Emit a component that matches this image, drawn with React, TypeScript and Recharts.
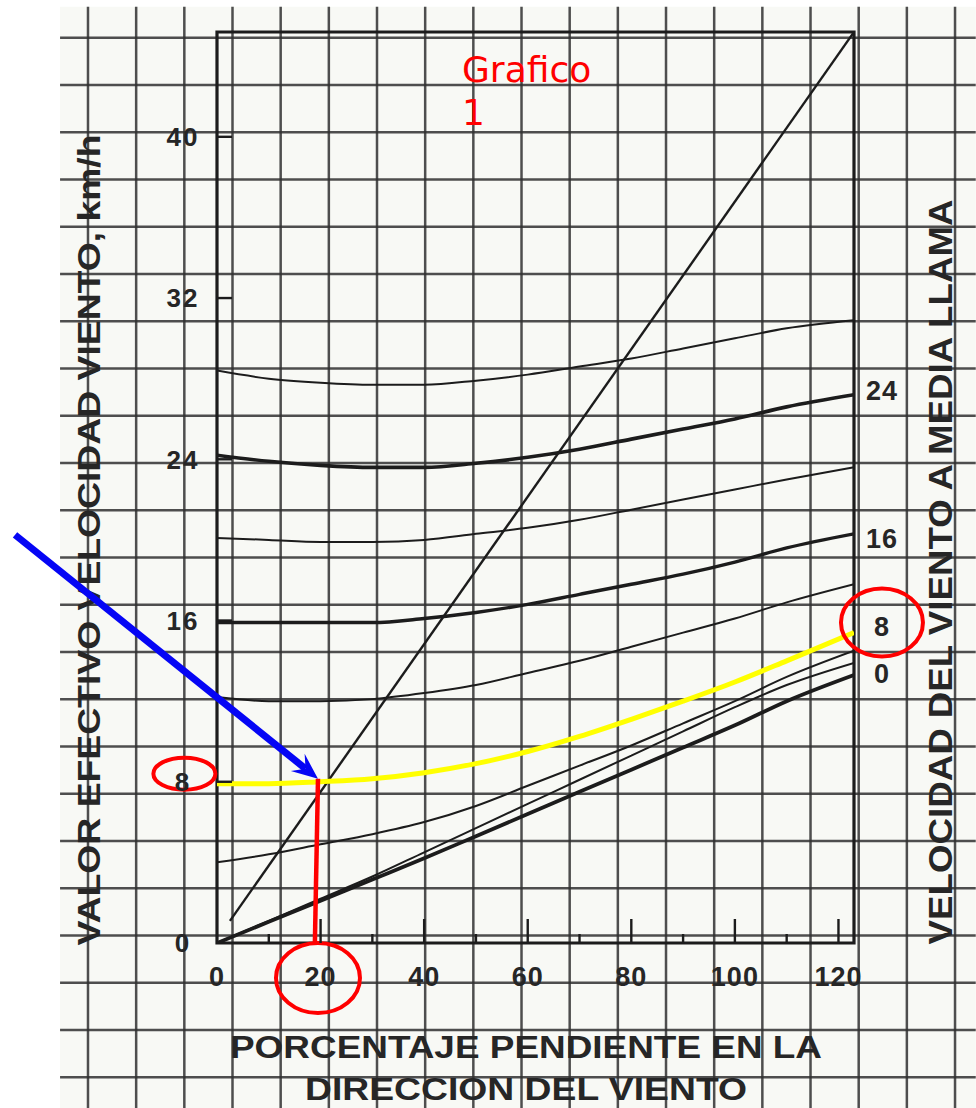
import React from "react";
import {
  LineChart,
  Line,
  XAxis,
  YAxis,
  ReferenceLine,
  ReferenceArea,
  ReferenceDot,
} from "recharts";

const slopePct = [0, 10, 20, 30, 40, 50, 60, 70, 80, 90, 100, 110, 123];

// effective wind speed (km/h) for each family curve
const curveTop = [28.4, 28.0, 27.8, 27.7, 27.7, 27.9, 28.2, 28.6, 29.0, 29.5, 30.0, 30.5, 30.9];
const curve24 = [24.2, 23.9, 23.7, 23.6, 23.6, 23.8, 24.1, 24.5, 25.0, 25.5, 26.0, 26.6, 27.2];
const curve20 = [20.1, 20.0, 19.9, 19.9, 20.0, 20.3, 20.6, 21.0, 21.5, 22.0, 22.5, 23.0, 23.6];
const curve16 = [15.9, 15.9, 15.9, 15.9, 16.1, 16.4, 16.8, 17.3, 17.8, 18.3, 18.9, 19.6, 20.3];
const curve12 = [12.2, 12.0, 12.0, 12.1, 12.4, 12.8, 13.4, 14.0, 14.7, 15.4, 16.1, 16.9, 17.8];
const curve8 = [7.9, 7.9, 8.0, 8.15, 8.45, 8.9, 9.5, 10.25, 11.1, 12.0, 12.95, 14.0, 15.4];
const curve4 = [4.0, 4.4, 4.9, 5.4, 6.0, 6.8, 7.8, 8.8, 9.8, 10.9, 12.0, 13.2, 14.5];
const curveLow = [0, 1.1, 2.2, 3.3, 4.5, 5.7, 6.9, 8.1, 9.3, 10.5, 11.7, 12.8, 13.9];
const curve0 = [0, 1.05, 2.1, 3.15, 4.2, 5.3, 6.4, 7.5, 8.6, 9.7, 10.8, 12.0, 13.3];

// straight slope line
const diagonal = [
  { x: 2.5, y: 1.1 },
  { x: 123, y: 45.2 },
];

const xTicks = [0, 10, 20, 30, 40, 50, 60, 70, 80, 90, 100, 110, 120];
const yTicks = [0, 8, 16, 24, 32, 40];
const rightTickPos = [27.4, 20.1, 15.7, 13.4];
const rightTickLabels = ["24", "16", "8", "0"];

// hand-drawn annotations (data coordinates)
const readSlope = 19.5;
const readWind = 8.15;
const arrowStart = { x: -39, y: 20.25 };
const circledLeft8 = { x: -6.3, y: 8.4 };
const circled20 = { x: 19.5, y: -1.74 };
const circledRight8 = { x: 128.4, y: 15.9 };
const titleAnchor = { x: 47.3, y: 42.7 };

const toPoints = (ys: number[]) => slopePct.map((x, i) => ({ x, y: ys[i] }));

const INK = "#1c1c1c";
const TEXT = "#262626";
const GRID = "#303030";
const PAPER = "#f8f9f5";
const RED = "#ff0000";
const BLUE = "#0505f5";
const YELLOW = "#ffff00";
const FONT = '"Liberation Sans", Arial, sans-serif';

const W = 976;
const H = 1108;
const MARGIN = { top: 32, left: 157, right: 62, bottom: 125 };

// squared paper behind the chart: column/row index -> chart units
const paperCols = Array.from({ length: 19 }, (_, i) => i);
const paperRows = Array.from({ length: 23 }, (_, i) => i);
const colX = (k: number) => -24.91 + 9.301 * k;
const rowY = (k: number) => 44.91 - 2.344 * k;
const PAPER_LEFT = colX(-0.58);
const PAPER_RIGHT = colX(18.43);
const PAPER_TOP = rowY(-0.66);
const PAPER_BOTTOM = rowY(22.66);

const series = [
  { key: "top", values: curveTop, width: 2 },
  { key: "24", values: curve24, width: 3.6 },
  { key: "20", values: curve20, width: 2 },
  { key: "16", values: curve16, width: 3.4 },
  { key: "12", values: curve12, width: 2 },
  { key: "4", values: curve4, width: 2 },
  { key: "low", values: curveLow, width: 2 },
  { key: "0", values: curve0, width: 3.8 },
];

function BottomTick(props: any) {
  const { x, y, payload } = props;
  const v = payload.value as number;
  const axisY = y - 24;
  const major = v % 20 === 0;
  return (
    <g>
      {v > 0 && (
        <line x1={x} x2={x} y1={axisY} y2={axisY - (major ? 24 : 9)} stroke={INK} strokeWidth={2.4} />
      )}
      {major && (
        <text x={x} y={y} dy="0.71em" textAnchor="middle" fontFamily={FONT} fontWeight="bold" fontSize={27} letterSpacing={1} fill={TEXT}>
          {v}
        </text>
      )}
    </g>
  );
}

function LeftTick(props: any) {
  const { x, y, payload } = props;
  const v = payload.value as number;
  const axisX = x + 34;
  return (
    <g>
      {v > 0 && <line x1={axisX} x2={axisX + 15} y1={y} y2={y} stroke={INK} strokeWidth={2.4} />}
      <text x={x} y={y} dy="0.36em" textAnchor="middle" fontFamily={FONT} fontWeight="bold" fontSize={26} letterSpacing={2} fill={TEXT}>
        {v}
      </text>
    </g>
  );
}

function RightTick(props: any) {
  const { x, y, index } = props;
  return (
    <text x={x} y={y} dy="0.36em" textAnchor="middle" fontFamily={FONT} fontWeight="bold" fontSize={27} letterSpacing={1} fill={TEXT}>
      {rightTickLabels[index]}
    </text>
  );
}

function ArrowShape(props: any) {
  const { x1, y1, x2, y2 } = props;
  const dx = x2 - x1;
  const dy = y2 - y1;
  const len = Math.hypot(dx, dy) || 1;
  const ux = dx / len;
  const uy = dy / len;
  const px = -uy;
  const py = ux;
  const head = 26;
  const half = 11;
  const notch = 16;
  const bx = x2 - ux * head;
  const by = y2 - uy * head;
  const nx = x2 - ux * notch;
  const ny = y2 - uy * notch;
  return (
    <g>
      <line x1={x1} y1={y1} x2={nx} y2={ny} stroke={BLUE} strokeWidth={7} />
      <polygon
        points={`${x2},${y2} ${bx + px * half},${by + py * half} ${nx},${ny} ${bx - px * half},${by - py * half}`}
        fill={BLUE}
      />
    </g>
  );
}

const ellipse = (rx: number, ry: number) => (p: any) =>
  <ellipse cx={p.cx} cy={p.cy} rx={rx} ry={ry} fill="none" stroke={RED} strokeWidth={4} />;

export default function App() {
  return (
    <div style={{ position: "absolute", left: 0, top: 0, width: W, height: H, background: "#fff" }}>
      <LineChart width={W} height={H} margin={MARGIN}>
        <XAxis
          dataKey="x"
          type="number"
          domain={[0, 123]}
          allowDataOverflow
          ticks={xTicks}
          interval={0}
          height={40}
          axisLine={false}
          tickLine={false}
          tickSize={0}
          tickMargin={24}
          tick={(p: any) => <BottomTick {...p} />}
          label={() => (
            <g fontFamily={FONT} fontWeight="bold" fontSize={32} fill={TEXT} textAnchor="middle">
              <text x={526} y={1058} textLength={592} lengthAdjust="spacingAndGlyphs">
                PORCENTAJE PENDIENTE EN LA
              </text>
              <text x={526} y={1100} textLength={442} lengthAdjust="spacingAndGlyphs">
                DIRECCION DEL VIENTO
              </text>
            </g>
          )}
        />
        <YAxis
          type="number"
          domain={[0, 45.2]}
          allowDataOverflow
          ticks={yTicks}
          interval={0}
          width={60}
          axisLine={false}
          tickLine={false}
          tickSize={0}
          tickMargin={34}
          tick={(p: any) => <LeftTick {...p} />}
          label={() => (
            <text
              transform="translate(100, 540) rotate(-90)"
              textAnchor="middle"
              fontFamily={FONT}
              fontWeight="bold"
              fontSize={32}
              fill={TEXT}
              textLength={811}
              lengthAdjust="spacingAndGlyphs"
            >
              VALOR EFECTIVO VELOCIDAD VIENTO, km/h
            </text>
          )}
        />
        <YAxis
          yAxisId="right"
          orientation="right"
          type="number"
          domain={[0, 45.2]}
          allowDataOverflow
          ticks={rightTickPos}
          interval={0}
          width={60}
          axisLine={false}
          tickLine={false}
          tickSize={0}
          tickMargin={28}
          tick={(p: any) => <RightTick {...p} />}
          label={() => (
            <text
              transform="translate(952, 572) rotate(-90)"
              textAnchor="middle"
              fontFamily={FONT}
              fontWeight="bold"
              fontSize={34}
              fill={TEXT}
              textLength={745}
              lengthAdjust="spacingAndGlyphs"
            >
              VELOCIDAD DEL VIENTO A MEDIA LLAMA
            </text>
          )}
        />

        <ReferenceArea
          x1={PAPER_LEFT}
          x2={PAPER_RIGHT}
          y1={PAPER_BOTTOM}
          y2={PAPER_TOP}
          ifOverflow="visible"
          fill={PAPER}
          fillOpacity={1}
          stroke="none"
          zIndex={-300}
        />
        {paperCols.map((c) => (
          <ReferenceLine
            key={`c${c}`}
            segment={[
              { x: colX(c), y: PAPER_TOP },
              { x: colX(c), y: PAPER_BOTTOM },
            ]}
            ifOverflow="visible"
            stroke={GRID}
            strokeWidth={2.5}
            strokeOpacity={0.85}
            zIndex={-200}
          />
        ))}
        {paperRows.map((r) => (
          <ReferenceLine
            key={`r${r}`}
            segment={[
              { x: PAPER_LEFT, y: rowY(r) },
              { x: PAPER_RIGHT, y: rowY(r) },
            ]}
            ifOverflow="visible"
            stroke={GRID}
            strokeWidth={2.5}
            strokeOpacity={0.85}
            zIndex={-200}
          />
        ))}

        <ReferenceArea
          x1={0}
          x2={123}
          y1={0}
          y2={45.2}
          ifOverflow="visible"
          fill="none"
          stroke={INK}
          strokeWidth={3.2}
          zIndex={350}
        />

        {series.map((s) => (
          <Line
            key={s.key}
            data={toPoints(s.values)}
            dataKey="y"
            type="monotone"
            stroke={INK}
            strokeWidth={s.width}
            dot={false}
            activeDot={false}
            isAnimationActive={false}
          />
        ))}
        <Line
          data={diagonal}
          dataKey="y"
          type="linear"
          stroke={INK}
          strokeWidth={2.4}
          dot={false}
          activeDot={false}
          isAnimationActive={false}
        />
        <Line
          data={toPoints(curve8)}
          dataKey="y"
          type="monotone"
          stroke={YELLOW}
          strokeWidth={5}
          dot={false}
          activeDot={false}
          isAnimationActive={false}
          zIndex={450}
        />

        <ReferenceLine
          segment={[
            { x: readSlope, y: readWind },
            { x: readSlope - 0.6, y: 0 },
          ]}
          ifOverflow="visible"
          stroke={RED}
          strokeWidth={4.5}
          zIndex={700}
        />
        <ReferenceLine
          segment={[arrowStart, { x: readSlope, y: readWind }]}
          ifOverflow="visible"
          shape={(p: any) => <ArrowShape {...p} />}
          zIndex={700}
        />
        <ReferenceDot {...circledLeft8} r={1} ifOverflow="visible" shape={ellipse(31, 16)} zIndex={700} />
        <ReferenceDot {...circled20} r={1} ifOverflow="visible" shape={ellipse(42, 35)} zIndex={700} />
        <ReferenceDot {...circledRight8} r={1} ifOverflow="visible" shape={ellipse(41, 34)} zIndex={700} />
        <ReferenceDot
          {...titleAnchor}
          r={1}
          ifOverflow="visible"
          zIndex={700}
          shape={(p: any) => (
            <text x={p.cx} y={p.cy} fontFamily='"DejaVu Sans", Verdana, sans-serif' fontSize={36} fill={RED}>
              <tspan x={p.cx}>Grafico</tspan>
              <tspan x={p.cx} dy={43}>
                1
              </tspan>
            </text>
          )}
        />
      </LineChart>
    </div>
  );
}
